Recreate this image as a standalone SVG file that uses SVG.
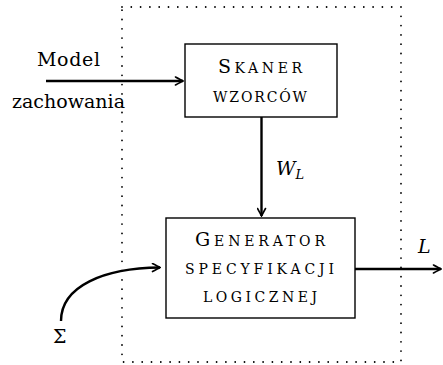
<svg xmlns="http://www.w3.org/2000/svg" width="443" height="365" viewBox="0 0 443 365">
  <defs>
    <style>
      .box { fill: #fff; stroke: #000; stroke-width: 1.4; }
      .wire { fill: none; stroke: #000; stroke-width: 2.4; }
      .frame { fill: none; stroke: #000; stroke-width: 1.8; stroke-linecap: round; stroke-dasharray: 0 9.3; }
    </style>
    <marker id="arrow" viewBox="-9 -5 10 10" refX="0" refY="0" markerWidth="10" markerHeight="10" markerUnits="userSpaceOnUse" orient="auto">
      <path d="M -7.5 -4 Q -2 -1 0 0 Q -2 1 -7.5 4" fill="none" stroke="#000" stroke-width="1.6" stroke-linecap="round"/>
    </marker>
  </defs>

  <rect width="443" height="365" fill="#fff"/>

  <!-- dotted system boundary -->
  <rect class="frame" x="122" y="7" width="279" height="355"/>

  <!-- connectors -->
  <g id="connectors">
    <line class="wire" x1="46" y1="81" x2="183" y2="81" marker-end="url(#arrow)"/>
    <line class="wire" x1="261.5" y1="117" x2="261.5" y2="216" marker-end="url(#arrow)"/>
    <line class="wire" x1="355" y1="269" x2="441" y2="269" marker-end="url(#arrow)"/>
    <path class="wire" d="M 61 321 C 61 286 104 268 160 267.5" marker-end="url(#arrow)"/>
  </g>

  <g font-family="DejaVu Serif, serif" fill="#000">
    <!-- input: behaviour model -->
    <g id="model-input" font-size="19">
      <text x="37" y="65.5" textLength="63" lengthAdjust="spacing">Model</text>
      <text x="12" y="108" textLength="113" lengthAdjust="spacing">zachowania</text>
    </g>

    <!-- pattern scanner -->
    <g id="skaner">
      <rect class="box" x="185" y="44" width="152" height="73"/>
      <text x="218" y="73" font-size="14" textLength="84" lengthAdjust="spacing"><tspan font-size="19">S</tspan>KANER</text>
      <text x="213" y="101.5" font-size="14" textLength="94" lengthAdjust="spacing">WZORCÓW</text>
    </g>

    <!-- W_L label -->
    <g id="wl-label" font-style="italic">
      <text x="276" y="175" font-size="19">W<tspan font-size="13" dy="3.5">L</tspan></text>
    </g>

    <!-- specification generator -->
    <g id="generator">
      <rect class="box" x="166" y="218" width="189" height="100"/>
      <text x="195" y="245.5" font-size="14" textLength="130" lengthAdjust="spacing"><tspan font-size="19">G</tspan>ENERATOR</text>
      <text x="185" y="274" font-size="14" textLength="149" lengthAdjust="spacing">SPECYFIKACJI</text>
      <text x="203" y="302" font-size="14" textLength="114" lengthAdjust="spacing">LOGICZNEJ</text>
    </g>

    <!-- output L -->
    <g id="output-l">
      <text x="418" y="253" font-size="19" font-style="italic">L</text>
    </g>

    <!-- alphabet Sigma -->
    <g id="sigma">
      <text x="53" y="343" font-size="19">Σ</text>
    </g>
  </g>
</svg>
